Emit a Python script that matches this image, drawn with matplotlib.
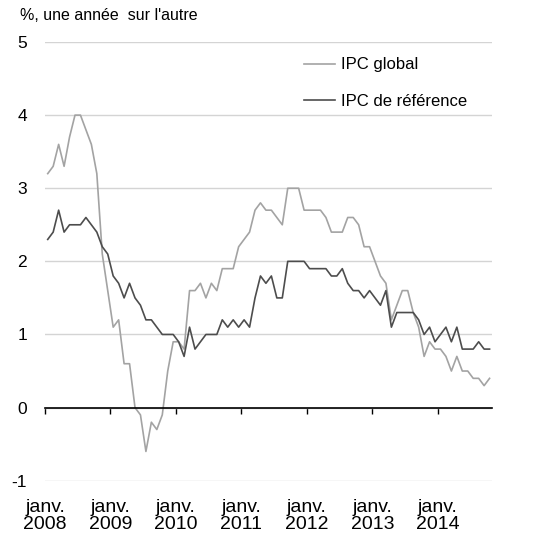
import numpy as np
import matplotlib
matplotlib.use('Agg')
import matplotlib.pyplot as plt

# data: monthly, janv. 2008 - oct. 2014
ipc_global = [
    3.2, 3.3, 3.6, 3.3, 3.7, 4.0, 4.0, 3.8, 3.6, 3.2, 2.1, 1.6,
    1.1, 1.2, 0.6, 0.6, 0.0, -0.1, -0.6, -0.2, -0.3, -0.1, 0.5, 0.9,
    0.9, 0.8, 1.6, 1.6, 1.7, 1.5, 1.7, 1.6, 1.9, 1.9, 1.9, 2.2,
    2.3, 2.4, 2.7, 2.8, 2.7, 2.7, 2.6, 2.5, 3.0, 3.0, 3.0, 2.7,
    2.7, 2.7, 2.7, 2.6, 2.4, 2.4, 2.4, 2.6, 2.6, 2.5, 2.2, 2.2,
    2.0, 1.8, 1.7, 1.2, 1.4, 1.6, 1.6, 1.3, 1.1, 0.7, 0.9, 0.8,
    0.8, 0.7, 0.5, 0.7, 0.5, 0.5, 0.4, 0.4, 0.3, 0.4,
]
ipc_reference = [
    2.3, 2.4, 2.7, 2.4, 2.5, 2.5, 2.5, 2.6, 2.5, 2.4, 2.2, 2.1,
    1.8, 1.7, 1.5, 1.7, 1.5, 1.4, 1.2, 1.2, 1.1, 1.0, 1.0, 1.0,
    0.9, 0.7, 1.1, 0.8, 0.9, 1.0, 1.0, 1.0, 1.2, 1.1, 1.2, 1.1,
    1.2, 1.1, 1.5, 1.8, 1.7, 1.8, 1.5, 1.5, 2.0, 2.0, 2.0, 2.0,
    1.9, 1.9, 1.9, 1.9, 1.8, 1.8, 1.9, 1.7, 1.6, 1.6, 1.5, 1.6,
    1.5, 1.4, 1.6, 1.1, 1.3, 1.3, 1.3, 1.3, 1.2, 1.0, 1.1, 0.9,
    1.0, 1.1, 0.9, 1.1, 0.8, 0.8, 0.8, 0.9, 0.8, 0.8,
]
years = [2008, 2009, 2010, 2011, 2012, 2013, 2014]
year_labels = ['janv.\n%d' % y for y in years]
y_ticks = [-1, 0, 1, 2, 3, 4, 5]

W, H = 535, 554
fig = plt.figure(figsize=(W / 100, H / 100), dpi=100)
ax = fig.add_axes([45 / W, 73.3 / H, 447.3 / W, 438.7 / H])

plt.rcParams['font.family'] = ['Liberation Sans', 'DejaVu Sans']

# months centred in their slot
x = np.arange(len(ipc_global)) + 0.5
ax.plot(x, ipc_global, color='#a3a3a3', linewidth=1.2, label='IPC global')
ax.plot(x, ipc_reference, color='#4d4d4d', linewidth=1.2, label='IPC de référence')

ax.set_xlim(0, 82)
ax.set_ylim(-1, 5)

# horizontal grid
ax.set_yticks(y_ticks)
ax.set_yticklabels([str(v) for v in y_ticks], fontsize=12.5, family='Liberation Sans')
ax.yaxis.grid(True, color='#d4d4d4', linewidth=1.0)
ax.set_axisbelow(True)
ax.tick_params(axis='y', length=0, pad=13)

# zero line acts as the x axis
for s in ['top', 'right', 'left']:
    ax.spines[s].set_visible(False)
ax.spines['bottom'].set_position(('data', 0))
ax.spines['bottom'].set_color('black')
ax.spines['bottom'].set_linewidth(1.2)
ax.spines['bottom'].set_zorder(3)
ax.set_xticks([(y - 2008) * 12 for y in years])
ax.set_xticklabels(year_labels, fontsize=14, family='Liberation Sans', linespacing=1.0)
ax.tick_params(axis='x', direction='out', length=4.5, width=1.0, pad=61)

leg = ax.legend(loc='center left', bbox_to_anchor=(0.579, 0.906), frameon=False,
                handlelength=1.85, handletextpad=0.35,
                labelspacing=1.3, borderpad=0, borderaxespad=0,
                prop={'family': 'Liberation Sans', 'size': 12})

fig.text(20 / W, 1 - 16 / H, "%, une année  sur l'autre", fontsize=11.5,
         family='Liberation Sans', va='center', ha='left')

fig.savefig('out.png', dpi=100)
